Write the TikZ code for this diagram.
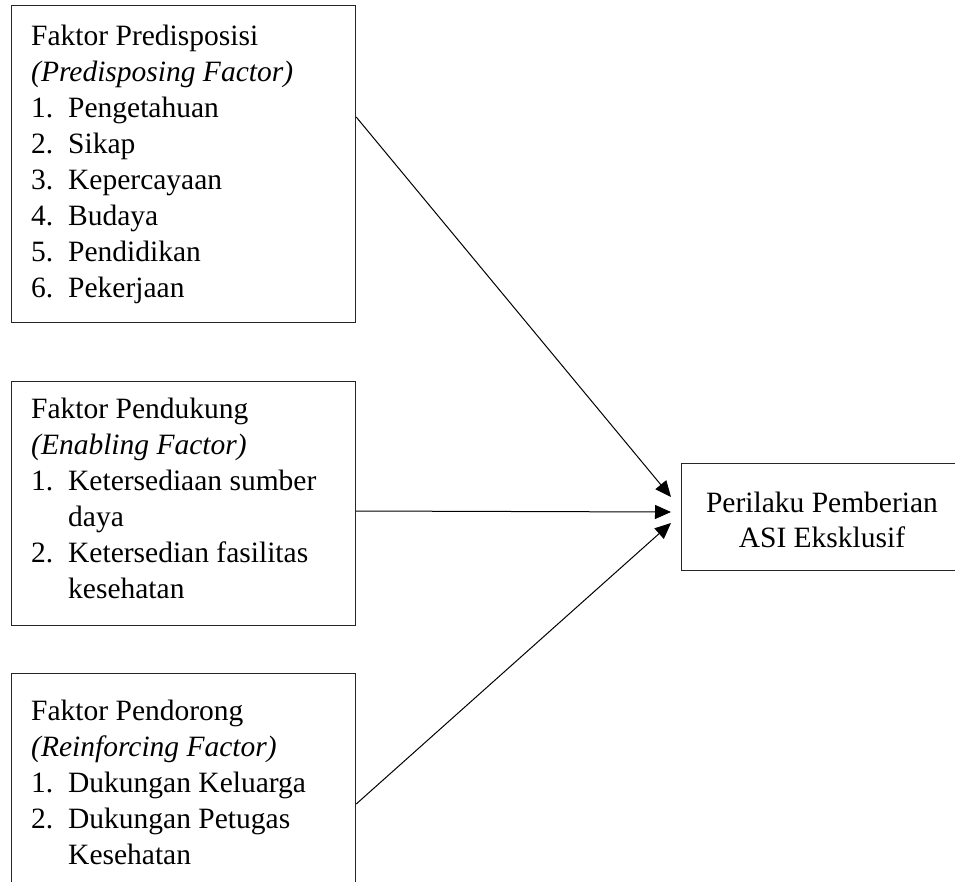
\documentclass[tikz,border=0pt]{standalone}
\usepackage{fontspec}
\setmainfont{Liberation Serif}
\usetikzlibrary{arrows.meta}
\tikzset{
  factorbox/.style={draw=black!85, line width=1.2pt, rectangle, inner sep=0pt, anchor=north west},
  boxtext/.style={anchor=north west, inner sep=0pt, align=left, font=\fontsize{29.5}{36}\selectfont},
  outtext/.style={anchor=north, inner sep=0pt, align=center, font=\fontsize{29.5}{35}\selectfont},
  conn/.style={line width=1pt, -{Triangle[length=16pt,width=14pt]}}
}
\newcommand{\itm}[1]{\makebox[37pt][l]{#1}}
\newcommand{\cnt}{\hspace*{37pt}}
\begin{document}
\begin{tikzpicture}[x=1pt,y=-1pt]
\useasboundingbox (0,0) rectangle (955,881);
\clip (0,0) rectangle (955,881);
% boxes
\node[factorbox, minimum width=344pt, minimum height=317pt] (b1) at (11,5) {};
\node[factorbox, minimum width=344pt, minimum height=244pt] (b2) at (11,381) {};
\node[factorbox, minimum width=344pt, minimum height=240pt] (b3) at (11,673) {};
\node[factorbox, minimum width=290pt, minimum height=107pt] (out) at (681,463) {};
% texts
\node[boxtext] (t1) at (31,19.8) {\strut Faktor Predisposisi\\
\strut\textit{(Predisposing Factor)}\\
\strut\itm{1.}Pengetahuan\\
\strut\itm{2.}Sikap\\
\strut\itm{3.}Kepercayaan\\
\strut\itm{4.}Budaya\\
\strut\itm{5.}Pendidikan\\
\strut\itm{6.}Pekerjaan};
\node[boxtext] (t2) at (31,392.8) {\strut Faktor Pendukung\\
\strut\textit{(Enabling Factor)}\\
\strut\itm{1.}Ketersediaan sumber\\
\strut\cnt daya\\
\strut\itm{2.}Ketersedian fasilitas\\
\strut\cnt kesehatan};
\node[boxtext] (t3) at (31,694.8) {\strut Faktor Pendorong\\
\strut\textit{(Reinforcing Factor)}\\
\strut\itm{1.}Dukungan Keluarga\\
\strut\itm{2.}Dukungan Petugas\\
\strut\cnt Kesehatan};
\node[outtext] (to) at (822,487.5) {\strut Perilaku Pemberian\\ \strut ASI Eksklusif};
% connector endpoints
\coordinate (s1) at (b1.north east |- 0,117);
\coordinate (s2) at (b2.north east |- 0,511);
\coordinate (s3) at (b3.north east |- 0,804);
\coordinate (e1) at (671,497);
\coordinate (e2) at (671,512);
\coordinate (e3) at (671,523);
\draw[conn] (s1) -- (e1);
\draw[conn] (s2) -- (e2);
\draw[conn] (s3) -- (e3);
\end{tikzpicture}
\end{document}
